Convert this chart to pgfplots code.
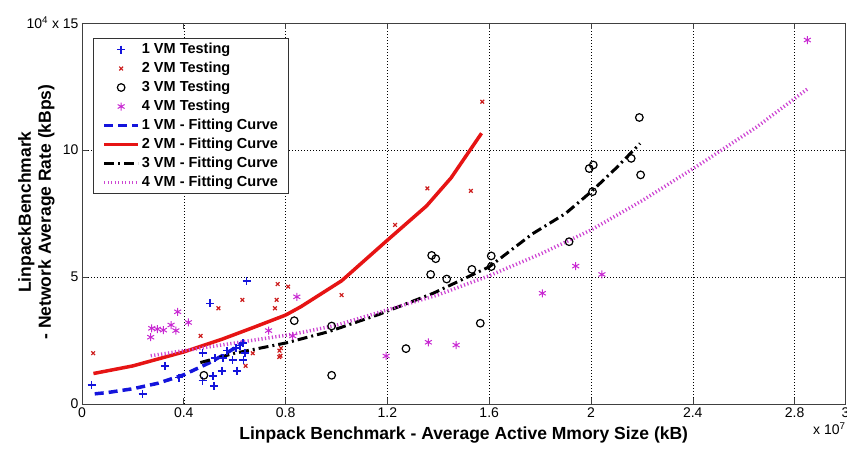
\documentclass[border=0pt]{standalone}
\usepackage{fontspec}
\setmainfont{Liberation Sans}
\usepackage{pgfplots}
\pgfplotsset{compat=1.18}

\definecolor{vmblue}{RGB}{20,20,220}
\definecolor{vmred}{RGB}{205,30,30}
\definecolor{vmredline}{RGB}{230,20,20}
\definecolor{vmmag}{RGB}{200,40,210}
\definecolor{vmmagline}{RGB}{205,70,210}

\pgfplotsset{
  marklegend/.style={legend image code/.code={%
    \draw[mark repeat=2,mark phase=2,##1] plot coordinates {(0pt,0pt) (17pt,0pt) (34pt,0pt)};}},
  linelegend/.style={legend image code/.code={%
    \draw[##1] (0pt,0pt) -- (34pt,0pt);}},
}

\begin{document}
\begin{tikzpicture}[x=1pt,y=1pt]
\path[use as bounding box] (-82,-46) rectangle (765,404);
\begin{axis}[
  at={(0,0)}, anchor=south west,
  scale only axis, width=763.5pt, height=381pt,
  xmin=0, xmax=3, ymin=0, ymax=15,
  xtick={0,0.4,0.8,1.2,1.6,2,2.4,2.8,3},
  xticklabels={0,0.4,0.8,1.2,1.6,2,2.4,2.8,3},
  ytick={0,5,10,15},
  yticklabels={0,5,10,{10\textsuperscript{4} x 15}},
  tick align=inside, major tick length=6pt,
  grid=major,
  grid style={black, line width=0.5pt, dash pattern=on 1pt off 2pt},
  axis line style={black!75, line width=0.8pt},
  tick style={black!75, line width=0.6pt},
  ticklabel style={font=\fontsize{14}{16}\selectfont},
  /pgf/number format/assume math mode=true,
  legend cell align=left,
  legend style={
    at={(axis description cs:0.0144,0.961)}, anchor=north west,
    draw=black!80, line width=0.8pt, fill=white,
    font=\bfseries\fontsize{14.5}{16}\selectfont,
    inner xsep=9pt, inner ysep=3pt, row sep=2.5pt, column sep=1pt,
    nodes={inner sep=1pt, text height=11pt, text depth=3.5pt},
  },
]
% measured samples, x in units of 1e7 kB, y in units of 1e4 kBps
\addplot[only marks, mark=+, mark size=4pt, line width=1.6pt, color=vmblue, marklegend]
  coordinates {
  (0.038,0.75) (0.238,0.39) (0.326,1.50) (0.381,1.04) (0.474,0.92)
  (0.514,1.10) (0.519,0.71) (0.474,2.00) (0.523,1.80) (0.553,1.80)
  (0.549,1.31) (0.592,1.73) (0.608,1.31) (0.634,1.73) (0.605,2.20)
  (0.620,2.30) (0.632,2.40) (0.640,2.00) (0.503,3.96) (0.647,4.85)
  (0.570,2.10)
  };
\addlegendentry{1 VM Testing}
\addplot[only marks, mark=x, mark size=2.6pt, line width=1.2pt, color=vmred, marklegend]
  coordinates {
  (0.044,2.00) (0.466,2.68) (0.536,3.77) (0.630,4.10) (0.643,1.50)
  (0.671,2.00) (0.758,3.77) (0.765,4.10) (0.769,4.72) (0.810,4.62)
  (0.776,2.10) (0.780,1.90) (0.782,2.20) (0.775,1.85) (1.020,4.29)
  (1.230,7.05) (1.357,8.49) (1.528,8.39) (1.573,11.90)
  };
\addlegendentry{2 VM Testing}
\addplot[only marks, mark=o, mark size=3.8pt, line width=1.2pt, color=black, marklegend]
  coordinates {
  (0.479,1.13) (0.834,3.28) (0.981,3.07) (0.981,1.13) (1.273,2.18)
  (1.370,5.10) (1.374,5.85) (1.390,5.72) (1.433,4.92) (1.532,5.30)
  (1.565,3.18) (1.608,5.83) (1.608,5.41) (1.914,6.39) (1.993,9.27)
  (2.009,9.41) (2.006,8.36) (2.158,9.67) (2.190,11.28) (2.195,9.02)
  };
\addlegendentry{3 VM Testing}
\addplot[only marks, mark=asterisk, mark size=4pt, line width=1pt, color=vmmag, marklegend]
  coordinates {
  (0.270,2.63) (0.274,2.98) (0.296,2.95) (0.320,2.91) (0.350,3.11)
  (0.369,2.89) (0.376,3.63) (0.418,3.21) (0.733,2.89) (0.844,4.22)
  (0.828,2.68) (1.195,1.89) (1.361,2.43) (1.470,2.32) (1.809,4.36)
  (1.940,5.43) (2.043,5.10) (2.850,14.33)
  };
\addlegendentry{4 VM Testing}
% fitted curves
\addplot[color=vmblue, line width=3.5pt, dash pattern=on 9pt off 5pt, linelegend]
  coordinates {
  (0.05,0.40) (0.10,0.45) (0.20,0.60) (0.30,0.82) (0.40,1.15)
  (0.50,1.62) (0.55,1.90) (0.60,2.20) (0.633,2.45)
  };
\addlegendentry{1 VM - Fitting Curve}
\addplot[color=vmredline, line width=3.5pt, linelegend]
  coordinates {
  (0.045,1.20) (0.20,1.50) (0.40,2.05) (0.55,2.55) (0.67,3.00)
  (0.80,3.50) (0.86,3.83) (1.02,4.85) (1.20,6.45) (1.354,7.80)
  (1.45,8.90) (1.525,10.00) (1.57,10.66)
  };
\addlegendentry{2 VM - Fitting Curve}
\addplot[color=black, line width=3pt, dash pattern=on 10pt off 4pt on 2pt off 4pt, linelegend]
  coordinates {
  (0.465,1.63) (0.60,2.00) (0.80,2.40) (0.97,2.85) (1.17,3.54)
  (1.38,4.36) (1.60,5.40) (1.77,6.70) (1.90,7.50) (2.00,8.35)
  (2.10,9.30) (2.193,10.26)
  };
\addlegendentry{3 VM - Fitting Curve}
\addplot[color=vmmagline, line width=3.5pt, dash pattern=on 1.2pt off 2.3pt, linelegend]
  coordinates {
  (0.27,1.90) (0.50,2.25) (0.83,2.75) (1.00,3.10) (1.18,3.65)
  (1.40,4.30) (1.60,5.05) (1.80,5.90) (2.00,6.85) (2.20,8.00)
  (2.43,9.45) (2.65,10.90) (2.85,12.40)
  };
\addlegendentry{4 VM - Fitting Curve}
\end{axis}
% axis titles and the x scale factor
\node[anchor=base, font=\bfseries\fontsize{17.5}{20}\selectfont]
  at (381.75,-36) {Linpack Benchmark - Average Active Mmory Size (kB)};
\node[rotate=90, anchor=base, font=\bfseries\fontsize{17.5}{20}\selectfont]
  at (-51,192) {LinpackBenchmark};
\node[rotate=90, anchor=base, font=\bfseries\fontsize{17.5}{20}\selectfont]
  at (-31,192) {- Network Average Rate (kBps)};
\node[anchor=base west, font=\fontsize{14}{16}\selectfont, inner sep=0pt]
  at (731,-31) {x 10\textsuperscript{7}};
\end{tikzpicture}
\end{document}
